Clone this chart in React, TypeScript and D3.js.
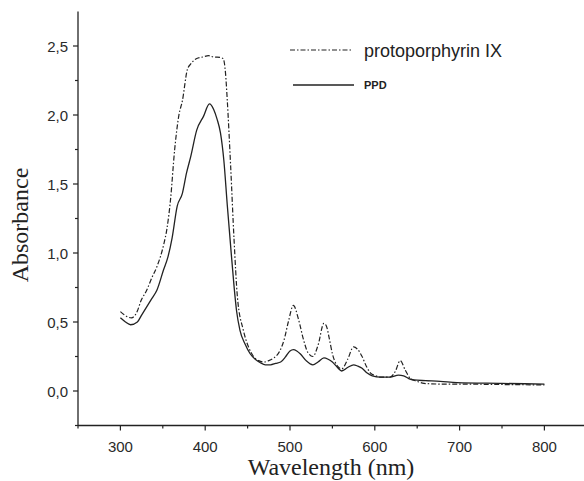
import React from "react";
import * as d3 from "d3";

const ppWl = [300, 305, 313, 320, 324, 331, 337, 343, 351, 355, 359, 364, 369, 373, 379, 383, 390, 397, 404, 410, 414, 421, 424, 426, 430, 434, 438, 445, 451, 457, 463, 469, 475, 481, 487, 493, 498, 504, 510, 516, 521, 527, 533, 540, 543, 546, 550, 556, 561, 568, 575, 580, 585, 590, 595, 601, 607, 618, 624, 630, 636, 642, 650, 658, 680, 700, 750, 800];
const ppAbs = [0.575, 0.55, 0.53, 0.58, 0.65, 0.73, 0.82, 0.9, 1.06, 1.18, 1.38, 1.75, 2.0, 2.1, 2.33, 2.37, 2.41, 2.42, 2.43, 2.42, 2.42, 2.41, 2.3, 2.11, 1.63, 1.1, 0.68, 0.44, 0.32, 0.25, 0.22, 0.21, 0.22, 0.24, 0.28, 0.37, 0.5, 0.62, 0.52, 0.37, 0.28, 0.25, 0.33, 0.49, 0.47, 0.39, 0.27, 0.18, 0.16, 0.23, 0.32, 0.3, 0.25, 0.18, 0.13, 0.11, 0.1, 0.1, 0.14, 0.22, 0.15, 0.09, 0.07, 0.055, 0.05, 0.05, 0.047, 0.044];

const ppdWl = [300, 306, 312, 320, 325, 331, 337, 343, 351, 356, 361, 367, 373, 378, 383, 390, 398, 405, 410, 414, 418, 422, 426, 430, 434, 437, 441, 447, 453, 459, 465, 471, 477, 483, 489, 495, 500, 504, 508, 512, 519, 527, 533, 540, 545, 550, 556, 561, 568, 575, 580, 585, 591, 597, 607, 618, 628, 634, 640, 646, 660, 677, 697, 750, 800];
const ppdAbs = [0.53, 0.5, 0.48, 0.5, 0.55, 0.61, 0.67, 0.73, 0.88, 0.97, 1.11, 1.34, 1.43, 1.58, 1.7, 1.89, 1.99, 2.08, 2.04, 1.97, 1.87, 1.67, 1.35, 1.05, 0.76, 0.58, 0.44, 0.34, 0.27, 0.23, 0.205, 0.19, 0.19, 0.2, 0.21, 0.25, 0.29, 0.3, 0.29, 0.27, 0.22, 0.19, 0.21, 0.24, 0.23, 0.21, 0.17, 0.145, 0.17, 0.19, 0.18, 0.165, 0.13, 0.11, 0.1, 0.1, 0.115, 0.11, 0.09, 0.08, 0.075, 0.07, 0.06, 0.055, 0.05];

const xTicks = [300, 400, 500, 600, 700, 800];
const xMinorTicks = [250, 350, 450, 550, 650, 750];
const yTicks = [0, 0.5, 1.0, 1.5, 2.0, 2.5];
const yMinorTicks = [-0.25, 0.25, 0.75, 1.25, 1.75, 2.25];
const seriesNames = ["protoporphyrin IX", "PPD"];

export default function App() {
  const W = 584, H = 481;
  const x = d3.scaleLinear().domain([250, 850]).range([78, 586.8]);
  const y = d3.scaleLinear().domain([-0.25, 2.75]).range([425.5, 11.5]);
  const line = d3
    .line<[number, number]>()
    .x((d) => x(d[0]))
    .y((d) => y(d[1]))
    .curve(d3.curveMonotoneX);
  const ppPath = line(ppWl.map((w, i) => [w, ppAbs[i]]));
  const ppdPath = line(ppdWl.map((w, i) => [w, ppdAbs[i]]));
  const fmt = (v: number) => v.toFixed(1).replace(".", ",");
  const axisColor = "#222";
  const tickFont = "Liberation Sans, Arial, sans-serif";
  const y0 = y(-0.25);
  const x0 = x(250);
  return (
    <svg width={W} height={H} style={{ position: "absolute", left: 0, top: 0, background: "#fff" }}>
      {/* x axis */}
      <line x1={x0} x2={W} y1={y0} y2={y0} stroke={axisColor} strokeWidth={1.3} />
      {xTicks.map((t) => (
        <g key={"xt" + t}>
          <line x1={x(t)} x2={x(t)} y1={y0} y2={y0 + 5} stroke={axisColor} strokeWidth={1.2} />
          <text x={x(t)} y={452} textAnchor="middle" fontFamily={tickFont} fontSize={15} fill="#2a2a2a">
            {t}
          </text>
        </g>
      ))}
      {xMinorTicks.map((t) => (
        <line key={"xm" + t} x1={x(t)} x2={x(t)} y1={y0} y2={y0 + 3} stroke={axisColor} strokeWidth={1.2} />
      ))}
      {/* y axis */}
      <line x1={x0} x2={x0} y1={y(2.75)} y2={y0} stroke={axisColor} strokeWidth={1.3} />
      {yTicks.map((t) => (
        <g key={"yt" + t}>
          <line x1={x0} x2={x0 - 5} y1={y(t)} y2={y(t)} stroke={axisColor} strokeWidth={1.2} />
          <text x={68} y={y(t) + 5.5} textAnchor="end" fontFamily={tickFont} fontSize={15} fill="#2a2a2a">
            {fmt(t)}
          </text>
        </g>
      ))}
      {yMinorTicks.map((t) => (
        <line key={"ym" + t} x1={x0} x2={x0 - 3} y1={y(t)} y2={y(t)} stroke={axisColor} strokeWidth={1.2} />
      ))}
      {/* axis titles */}
      <text
        x={331}
        y={475}
        textAnchor="middle"
        fontFamily="Liberation Serif, Times New Roman, serif"
        fontSize={24}
        fill="#222"
      >
        Wavelength (nm)
      </text>
      <text
        transform={`translate(28,${225}) rotate(-90)`}
        textAnchor="middle"
        fontFamily="Liberation Serif, Times New Roman, serif"
        fontSize={24}
        fill="#222"
      >
        Absorbance
      </text>
      {/* data */}
      <path d={ppPath || ""} fill="none" stroke="#222" strokeWidth={1.2} strokeDasharray="5,2,1.5,2" />
      <path d={ppdPath || ""} fill="none" stroke="#222" strokeWidth={1.3} />
      {/* legend */}
      <line x1={290} x2={351} y1={50} y2={50} stroke="#222" strokeWidth={1.2} strokeDasharray="5,2,1.5,2" />
      <text x={364} y={56.5} fontFamily={tickFont} fontSize={18} fill="#222">
        {seriesNames[0]}
      </text>
      <line x1={293} x2={354} y1={85} y2={85} stroke="#222" strokeWidth={1.3} />
      <text x={364} y={89} fontFamily={tickFont} fontSize={11} fontWeight="bold" fill="#222">
        {seriesNames[1]}
      </text>
    </svg>
  );
}
